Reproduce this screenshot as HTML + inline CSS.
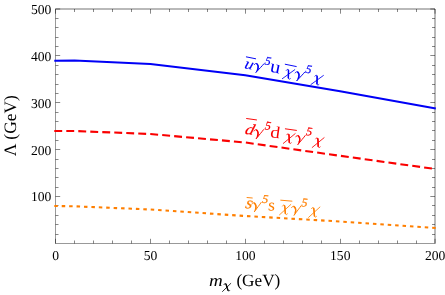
<!DOCTYPE html>
<html><head><meta charset="utf-8"><title>plot</title>
<style>
html,body{margin:0;padding:0;background:#fff;}
body{width:445px;height:295px;overflow:hidden;}
svg{display:block;font-family:"Liberation Serif",serif;text-rendering:geometricPrecision;will-change:transform;}
.tl text{font-size:13.6px;fill:#000;}
.it{font-style:italic;}
</style></head><body>
<svg width="445" height="295" viewBox="0 0 445 295">
<rect width="445" height="295" fill="#fff"/>
<path d="M56.0 9.0H435.0V243.0" fill="none" stroke="#000" stroke-opacity="0.55" stroke-width="1"/>
<path d="M55.5 8.5V244.0" fill="none" stroke="#000" stroke-opacity="0.4" stroke-width="1"/>
<path d="M56.0 243.5H435.5" fill="none" stroke="#000" stroke-opacity="0.4" stroke-width="1"/>
<path d="M55.50 243.5v-4.7M55.50 9.0v4.7M74.50 243.5v-3.0M74.50 9.0v3.0M93.50 243.5v-3.0M93.50 9.0v3.0M112.50 243.5v-3.0M112.50 9.0v3.0M131.50 243.5v-3.0M131.50 9.0v3.0M150.50 243.5v-4.7M150.50 9.0v4.7M169.50 243.5v-3.0M169.50 9.0v3.0M188.50 243.5v-3.0M188.50 9.0v3.0M207.50 243.5v-3.0M207.50 9.0v3.0M226.50 243.5v-3.0M226.50 9.0v3.0M245.50 243.5v-4.7M245.50 9.0v4.7M264.50 243.5v-3.0M264.50 9.0v3.0M283.50 243.5v-3.0M283.50 9.0v3.0M302.50 243.5v-3.0M302.50 9.0v3.0M321.50 243.5v-3.0M321.50 9.0v3.0M340.50 243.5v-4.7M340.50 9.0v4.7M359.50 243.5v-3.0M359.50 9.0v3.0M378.50 243.5v-3.0M378.50 9.0v3.0M397.50 243.5v-3.0M397.50 9.0v3.0M416.50 243.5v-3.0M416.50 9.0v3.0M435.00 243.5v-4.7M435.00 9.0v4.7M55.5 234.50h3.0M435.0 234.50h-3.0M55.5 224.50h3.0M435.0 224.50h-3.0M55.5 215.50h3.0M435.0 215.50h-3.0M55.5 205.50h3.0M435.0 205.50h-3.0M55.5 196.50h4.7M435.0 196.50h-4.7M55.5 187.50h3.0M435.0 187.50h-3.0M55.5 177.50h3.0M435.0 177.50h-3.0M55.5 168.50h3.0M435.0 168.50h-3.0M55.5 159.50h3.0M435.0 159.50h-3.0M55.5 149.50h4.7M435.0 149.50h-4.7M55.5 140.50h3.0M435.0 140.50h-3.0M55.5 130.50h3.0M435.0 130.50h-3.0M55.5 121.50h3.0M435.0 121.50h-3.0M55.5 112.50h3.0M435.0 112.50h-3.0M55.5 102.50h4.7M435.0 102.50h-4.7M55.5 93.50h3.0M435.0 93.50h-3.0M55.5 84.50h3.0M435.0 84.50h-3.0M55.5 74.50h3.0M435.0 74.50h-3.0M55.5 65.50h3.0M435.0 65.50h-3.0M55.5 55.50h4.7M435.0 55.50h-4.7M55.5 46.50h3.0M435.0 46.50h-3.0M55.5 37.50h3.0M435.0 37.50h-3.0M55.5 27.50h3.0M435.0 27.50h-3.0M55.5 18.50h3.0M435.0 18.50h-3.0M55.5 9.00h4.7M435.0 9.00h-4.7" fill="none" stroke="#000" stroke-opacity="0.47" stroke-width="1"/>
<path d="M54.30 60.80 L74.50 60.50 L150.40 64.00 L245.25 75.20 L340.10 91.30 L435.80 108.45" fill="none" stroke="#0000f6" stroke-width="2.1" stroke-linejoin="round"/>
<path d="M54.30 131.00 L74.50 131.00 L150.40 134.00 L245.25 142.50 L340.10 155.80 L435.80 169.10" fill="none" stroke="#fa0000" stroke-width="2.1" stroke-dasharray="7.9 4.1" stroke-linejoin="round"/>
<path d="M54.30 206.00 L74.50 206.30 L150.40 209.50 L245.25 216.00 L340.10 221.50 L435.80 228.05" fill="none" stroke="#ff7f00" stroke-width="2.1" stroke-dasharray="3.5 3.922" stroke-linejoin="round"/>
<g class="tl"><text x="55.60" y="259.7" text-anchor="middle">0</text><text x="150.47" y="259.7" text-anchor="middle">50</text><text x="245.35" y="259.7" text-anchor="middle">100</text><text x="340.23" y="259.7" text-anchor="middle">150</text><text x="435.10" y="259.7" text-anchor="middle">200</text><text x="51.3" y="201.40" text-anchor="end">100</text><text x="51.3" y="154.50" text-anchor="end">200</text><text x="51.3" y="107.60" text-anchor="end">300</text><text x="51.3" y="60.70" text-anchor="end">400</text><text x="51.3" y="13.80" text-anchor="end">500</text></g>
<g font-size="17" fill="#000">
<text transform="translate(209.1,285.5) scale(1.12,1)" class="it">m</text>
<g transform="translate(222.5,291.5)" fill="none" stroke="#000" stroke-linecap="round"><path d="M8.3 -8.1L0 0" stroke-width="0.8"/><path d="M1.5 -7.0C1.9 -8.0 2.9 -8.5 3.5 -7.4C4.3 -5.5 4.9 -2.6 5.6 -1.0C6.0 -0.1 6.6 -0.1 7.2 -1.0" stroke-width="0.8"/><path d="M3.4 -7.4C4.2 -5.5 4.8 -2.8 5.5 -1.2" stroke-width="1.4"/></g>
<text x="236.4" y="285.5" font-size="17.2">(GeV)</text>
<text transform="translate(16.3,125.7) rotate(-90)" text-anchor="middle" font-size="17.4">Λ (GeV)</text>
</g>
<g fill="#0000f6" transform="translate(245,66.6) rotate(11.5)"><text transform="translate(-1.0,1.7) skewX(-6) scale(1.15,1)" font-size="15" font-style="italic" stroke="#0000f6" stroke-width="0.15">u</text><path d="M-1.0 -9.8H9.2" stroke="#0000f6" stroke-width="0.9" fill="none"/><g transform="translate(8.00,0)" fill="none" stroke="#0000f6" stroke-linecap="round"><path d="M0.7 -3.8C1.1 -5.0 2.2 -5.8 3.2 -5.0C4.9 -3.8 5.8 -1.0 4.0 3.3" stroke-width="0.8"/><path d="M3.1 -5.1C4.7 -4.0 5.5 -1.8 4.9 0.8" stroke-width="1.5"/><path d="M9.9 -6.4C8.8 -4.2 6.2 -0.5 4.0 3.4" stroke-width="0.9"/></g><text transform="translate(18.30,-6.10) scale(1.0,1)" font-size="12.0" font-style="italic" stroke="#0000f6" stroke-width="0.2">5</text><text transform="translate(24.80,0.00) scale(1.15,1)" font-size="18" font-style="normal">u</text><g transform="translate(38.80,0)" fill="none" stroke="#0000f6" stroke-linecap="round"><path d="M10.6 -6.9L0.2 4.4" stroke-width="0.8"/><path d="M2.4 -4.6C2.9 -5.8 4.0 -6.3 4.6 -5.0C5.3 -3.0 5.5 0.5 6.0 2.6C6.4 3.8 7.2 3.9 8.0 2.8" stroke-width="0.8"/><path d="M4.5 -5.0C5.2 -3.0 5.4 0 5.9 2.4" stroke-width="1.5"/></g><path d="M38.60 -10.3H50.60" stroke="#0000f6" stroke-width="0.9" fill="none"/><g transform="translate(49.70,0)" fill="none" stroke="#0000f6" stroke-linecap="round"><path d="M0.7 -3.8C1.1 -5.0 2.2 -5.8 3.2 -5.0C4.9 -3.8 5.8 -1.0 4.0 3.3" stroke-width="0.8"/><path d="M3.1 -5.1C4.7 -4.0 5.5 -1.8 4.9 0.8" stroke-width="1.5"/><path d="M9.9 -6.4C8.8 -4.2 6.2 -0.5 4.0 3.4" stroke-width="0.9"/></g><text transform="translate(60.00,-6.10) scale(1.0,1)" font-size="12.0" font-style="italic" stroke="#0000f6" stroke-width="0.2">5</text><g transform="translate(68.00,0)" fill="none" stroke="#0000f6" stroke-linecap="round"><path d="M10.6 -6.9L0.2 4.4" stroke-width="0.8"/><path d="M2.4 -4.6C2.9 -5.8 4.0 -6.3 4.6 -5.0C5.3 -3.0 5.5 0.5 6.0 2.6C6.4 3.8 7.2 3.9 8.0 2.8" stroke-width="0.8"/><path d="M4.5 -5.0C5.2 -3.0 5.4 0 5.9 2.4" stroke-width="1.5"/></g></g>
<g fill="#fa0000" transform="translate(245.3,133.6) rotate(8)"><text transform="translate(-1.0,0.3) skewX(-8) scale(1.15,1)" font-size="15.5" font-style="italic" stroke="#fa0000" stroke-width="0.15">d</text><path d="M-1.2 -15.1H9.6" stroke="#fa0000" stroke-width="0.9" fill="none"/><g transform="translate(7.60,0)" fill="none" stroke="#fa0000" stroke-linecap="round"><path d="M0.7 -3.8C1.1 -5.0 2.2 -5.8 3.2 -5.0C4.9 -3.8 5.8 -1.0 4.0 3.3" stroke-width="0.8"/><path d="M3.1 -5.1C4.7 -4.0 5.5 -1.8 4.9 0.8" stroke-width="1.5"/><path d="M9.9 -6.4C8.8 -4.2 6.2 -0.5 4.0 3.4" stroke-width="0.9"/></g><text transform="translate(18.30,-6.90) scale(1.0,1)" font-size="12.0" font-style="italic" stroke="#fa0000" stroke-width="0.2">5</text><text transform="translate(24.80,0.00) scale(1.18,1)" font-size="16.5" font-style="normal">d</text><g transform="translate(38.80,0)" fill="none" stroke="#fa0000" stroke-linecap="round"><path d="M10.6 -6.9L0.2 4.4" stroke-width="0.8"/><path d="M2.4 -4.6C2.9 -5.8 4.0 -6.3 4.6 -5.0C5.3 -3.0 5.5 0.5 6.0 2.6C6.4 3.8 7.2 3.9 8.0 2.8" stroke-width="0.8"/><path d="M4.5 -5.0C5.2 -3.0 5.4 0 5.9 2.4" stroke-width="1.5"/></g><path d="M38.60 -10.3H50.60" stroke="#fa0000" stroke-width="0.9" fill="none"/><g transform="translate(49.70,0)" fill="none" stroke="#fa0000" stroke-linecap="round"><path d="M0.7 -3.8C1.1 -5.0 2.2 -5.8 3.2 -5.0C4.9 -3.8 5.8 -1.0 4.0 3.3" stroke-width="0.8"/><path d="M3.1 -5.1C4.7 -4.0 5.5 -1.8 4.9 0.8" stroke-width="1.5"/><path d="M9.9 -6.4C8.8 -4.2 6.2 -0.5 4.0 3.4" stroke-width="0.9"/></g><text transform="translate(60.00,-6.90) scale(1.0,1)" font-size="12.0" font-style="italic" stroke="#fa0000" stroke-width="0.2">5</text><g transform="translate(68.00,0)" fill="none" stroke="#fa0000" stroke-linecap="round"><path d="M10.6 -6.9L0.2 4.4" stroke-width="0.8"/><path d="M2.4 -4.6C2.9 -5.8 4.0 -6.3 4.6 -5.0C5.3 -3.0 5.5 0.5 6.0 2.6C6.4 3.8 7.2 3.9 8.0 2.8" stroke-width="0.8"/><path d="M4.5 -5.0C5.2 -3.0 5.4 0 5.9 2.4" stroke-width="1.5"/></g></g>
<g fill="#ff7f00" transform="translate(245,207.4) rotate(5)"><text transform="translate(-0.3,0.6) skewX(-8) scale(1.05,1)" font-size="17" font-style="italic" stroke="#ff7f00" stroke-width="0.15">s</text><path d="M0.8 -10.0H6.8" stroke="#ff7f00" stroke-width="0.9" fill="none"/><g transform="translate(5.80,0)" fill="none" stroke="#ff7f00" stroke-linecap="round"><path d="M0.7 -3.8C1.1 -5.0 2.2 -5.8 3.2 -5.0C4.9 -3.8 5.8 -1.0 4.0 3.3" stroke-width="0.8"/><path d="M3.1 -5.1C4.7 -4.0 5.5 -1.8 4.9 0.8" stroke-width="1.5"/><path d="M9.9 -6.4C8.8 -4.2 6.2 -0.5 4.0 3.4" stroke-width="0.9"/></g><text transform="translate(16.50,-6.00) scale(1.0,1)" font-size="12.0" font-style="italic" stroke="#ff7f00" stroke-width="0.2">5</text><text transform="translate(22.80,0.90) scale(1.05,1)" font-size="17" font-style="normal">s</text><g transform="translate(34.80,0)" fill="none" stroke="#ff7f00" stroke-linecap="round"><path d="M10.6 -6.9L0.2 4.4" stroke-width="0.8"/><path d="M2.4 -4.6C2.9 -5.8 4.0 -6.3 4.6 -5.0C5.3 -3.0 5.5 0.5 6.0 2.6C6.4 3.8 7.2 3.9 8.0 2.8" stroke-width="0.8"/><path d="M4.5 -5.0C5.2 -3.0 5.4 0 5.9 2.4" stroke-width="1.5"/></g><path d="M34.60 -10.3H46.60" stroke="#ff7f00" stroke-width="0.9" fill="none"/><g transform="translate(45.70,0)" fill="none" stroke="#ff7f00" stroke-linecap="round"><path d="M0.7 -3.8C1.1 -5.0 2.2 -5.8 3.2 -5.0C4.9 -3.8 5.8 -1.0 4.0 3.3" stroke-width="0.8"/><path d="M3.1 -5.1C4.7 -4.0 5.5 -1.8 4.9 0.8" stroke-width="1.5"/><path d="M9.9 -6.4C8.8 -4.2 6.2 -0.5 4.0 3.4" stroke-width="0.9"/></g><text transform="translate(56.00,-6.00) scale(1.0,1)" font-size="12.0" font-style="italic" stroke="#ff7f00" stroke-width="0.2">5</text><g transform="translate(64.00,0)" fill="none" stroke="#ff7f00" stroke-linecap="round"><path d="M10.6 -6.9L0.2 4.4" stroke-width="0.8"/><path d="M2.4 -4.6C2.9 -5.8 4.0 -6.3 4.6 -5.0C5.3 -3.0 5.5 0.5 6.0 2.6C6.4 3.8 7.2 3.9 8.0 2.8" stroke-width="0.8"/><path d="M4.5 -5.0C5.2 -3.0 5.4 0 5.9 2.4" stroke-width="1.5"/></g></g>
</svg>
</body></html>
